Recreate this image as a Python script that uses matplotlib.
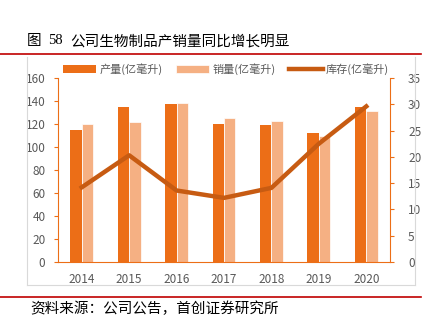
import numpy as np
import matplotlib
matplotlib.use('Agg')
import matplotlib.pyplot as plt
from matplotlib.lines import Line2D

plt.rcParams['font.family'] = ['Noto Sans CJK SC', 'DejaVu Sans']

years = ['2014', '2015', '2016', '2017', '2018', '2019', '2020']
production = [115, 135, 137, 120, 119, 112, 135]
sales = [120, 122, 138, 125, 123, 110, 131]
inventory = [14.2, 20.3, 13.6, 12.2, 14.1, 22.5, 29.6]

c_prod = '#EC6E17'
c_sales = '#F5B083'
c_line = '#C75B12'
c_tick = '#595959'

fig = plt.figure(figsize=(4.35, 3.21), dpi=100)

# title and red rules
fig.text(27 / 435, 1 - 41 / 321, '图', fontsize=10.5, va='center', ha='left', color='black')
fig.text(48 / 435, 1 - 41 / 321, '58', fontsize=10.5, va='center', ha='left',
         family='Liberation Serif', color='black')
fig.text(70 / 435, 1 - 41 / 321, '公司生物制品产销量同比增长明显', fontsize=10.5,
         va='center', ha='left', color='black')
fig.add_artist(Line2D([0, 421 / 435], [1 - 54 / 321] * 2, color='#C00000', lw=1.2))
fig.add_artist(Line2D([0, 421 / 435], [1 - 297 / 321] * 2, color='#C00000', lw=1.2))
fig.text(30 / 435, 1 - 309 / 321, '资料来源：公司公告，首创证券研究所', fontsize=10.5,
         va='center', ha='left', color='black', style='italic')

# chart frame
fig.add_artist(Line2D([27 / 435] * 2, [1 - 57 / 321, 1 - 285 / 321], color='#D9D9D9', lw=0.8))
fig.add_artist(Line2D([415 / 435] * 2, [1 - 57 / 321, 1 - 285 / 321], color='#D9D9D9', lw=0.8))
fig.add_artist(Line2D([27 / 435, 415 / 435], [1 - 285 / 321] * 2, color='#D9D9D9', lw=0.8))

ax = fig.add_axes([58 / 435, 1 - 262 / 321, 332 / 435, 184 / 321])
ax2 = ax.twinx()

x = np.arange(len(years))
w = 0.24
b1 = ax.bar(x - w / 2, production, w, color=c_prod, label='产量(亿毫升)', zorder=2)
b2 = ax.bar(x + w / 2, sales, w, color=c_sales, edgecolor='white', linewidth=0.5,
            label='销量(亿毫升)', zorder=2)
l1, = ax2.plot(x, inventory, color=c_line, lw=3.2, label='库存(亿毫升)')

ax.set_xlim(-0.5, 6.5)
ax.set_ylim(0, 160)
ax.set_yticks(range(0, 161, 20))
ax2.set_ylim(0, 35)
ax2.set_yticks(range(0, 36, 5))
ax.set_xticks(x)
ax.set_xticklabels(years)

for a in (ax, ax2):
    for s in a.spines.values():
        s.set_visible(False)
    a.tick_params(colors=c_tick, labelsize=8.5, length=3, width=0.8)
ax.spines['left'].set_visible(True)
ax.spines['left'].set_color(c_prod)
ax.spines['bottom'].set_visible(True)
ax.spines['bottom'].set_color(c_prod)
ax2.spines['right'].set_visible(True)
ax2.spines['right'].set_color(c_prod)
ax.tick_params(axis='y', color=c_prod, length=3, pad=6)
ax2.tick_params(axis='y', color=c_prod, length=3, pad=10)
ax.tick_params(axis='x', length=0, pad=8)
ax.set_zorder(ax2.get_zorder() - 1)
ax2.patch.set_visible(False)

fig.legend([b1, b2, l1], ['产量(亿毫升)', '销量(亿毫升)', '库存(亿毫升)'],
           loc='center', bbox_to_anchor=(226 / 435, 1 - 69 / 321), ncol=3,
           frameon=False, fontsize=8, labelcolor=c_tick, handlelength=3.0,
           columnspacing=1.2, handletextpad=0.3)

fig.savefig('out.png', dpi=100)
